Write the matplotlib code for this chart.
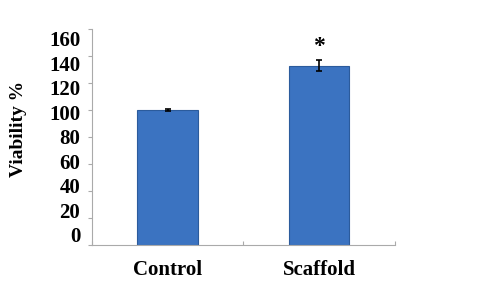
import matplotlib.pyplot as plt
import matplotlib.transforms as mtransforms
import numpy as np

# Data
categories = ['Control', 'Scaffold']
viability = [100, 133]
errors = [1, 4]
yticks = [0, 20, 40, 60, 80, 100, 120, 140, 160]
significance = ['', '*']

plt.rcParams['font.family'] = ['Liberation Serif', 'DejaVu Serif']
plt.rcParams['font.weight'] = 'bold'

fig = plt.figure(figsize=(4.78, 3.0), dpi=100)
ax = fig.add_axes([0.192, 0.183, 0.634, 0.72])

x = np.arange(len(categories))
ax.bar(x, viability, width=0.4, color='#3b73c1', edgecolor='#2b5b9c', linewidth=0.8,
       yerr=errors, error_kw=dict(ecolor='black', elinewidth=1.2, capsize=2, capthick=1.2))

for xi, v, e, s in zip(x, viability, errors, significance):
    if s:
        ax.text(xi, v + e + 2, s, ha='center', va='bottom', fontsize=17, fontweight='bold')

ax.set_xlim(-0.5, 1.5)
ax.set_ylim(0, 160)
ax.set_yticks(yticks)
ax.set_yticklabels([])
ax.set_xticks([-0.5, 0.5, 1.5])
ax.set_xticklabels([])
ax.tick_params(axis='x', length=3, color='#aaaaaa', direction='in')
ax.tick_params(axis='y', length=3, color='#aaaaaa')

# the pasted labels sit a bit off the tick marks (compressed spacing)
for t in yticks:
    shift_px = 12 - (160 - t) / 20 * 2.5
    offset = mtransforms.ScaledTranslation(0, -shift_px / 100, fig.dpi_scale_trans)
    ax.text(-0.038, t, str(t), transform=ax.get_yaxis_transform() + offset,
            ha='right', va='center', fontsize=15, fontweight='bold')

for xi, c in zip(x, categories):
    ax.text(xi, -0.07, c, transform=ax.get_xaxis_transform(), ha='center', va='top',
            fontsize=15, fontweight='bold')

ax.set_ylabel('Viability %', fontsize=14, fontweight='bold')
ax.yaxis.set_label_coords(-0.215, 0.54)

for side in ['top', 'right']:
    ax.spines[side].set_visible(False)
ax.spines['left'].set_color('#aaaaaa')
ax.spines['bottom'].set_color('#aaaaaa')

fig.savefig('out.png', dpi=100)
